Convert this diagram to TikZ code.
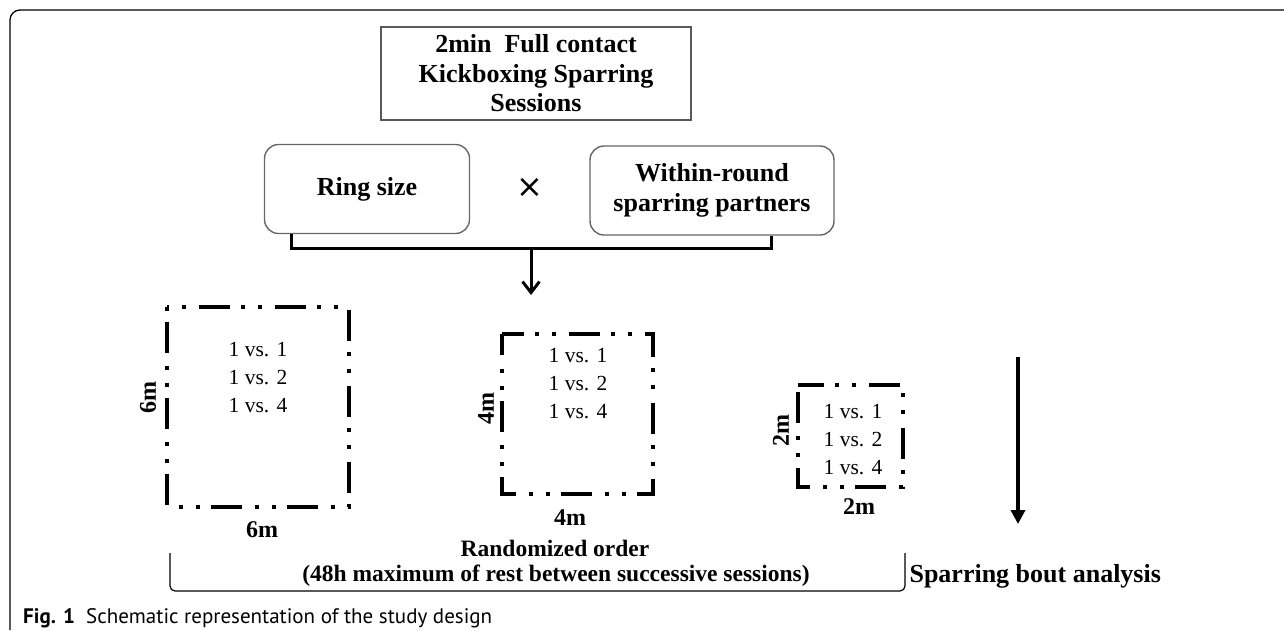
\documentclass[tikz,border=0pt]{standalone}
\usepackage{fontspec}
\setmainfont{Liberation Serif}
\newfontfamily\capfont{PT Sans}
\newfontfamily\symfont{DejaVu Sans}
\usetikzlibrary{arrows.meta}

\tikzset{
    titlebox/.style={draw=black!65, line width=1.8pt, minimum width=310pt, minimum height=93pt,
        align=center, font=\fontsize{26}{29.5}\selectfont\bfseries},
    factorbox/.style={draw=black!60, line width=1.4pt, rounded corners=14pt, minimum height=89pt,
        align=center, font=\fontsize{26}{29.5}\selectfont\bfseries},
    ringline/.style={line width=4pt, dash pattern=on 31pt off 11pt on 4pt off 13pt on 4pt off 13.2pt},
    pairs/.style={align=center, font=\fontsize{21.5}{28}\selectfont},
    sizelabel/.style={font=\fontsize{24}{24}\selectfont\bfseries},
    bottomtext/.style={font=\fontsize{23.5}{28}\selectfont\bfseries},
    bracket/.style={line width=3pt},
}

\begin{document}
\begin{tikzpicture}[x=1pt, y=-1pt]
    \useasboundingbox (0,0) rectangle (1284,630);

    % Outer frame
    \draw[line width=1.3pt, rounded corners=10pt] (1284,10) -- (10,10) -- (10,630);

    % Top box and the two factors
    \node[titlebox] (title) at (536,73.5) {2min\ \ Full contact\\Kickboxing Sparring\\Sessions};
    \node[factorbox, minimum width=205pt] (ring) at (367,189) {Ring size};
    \node[factorbox, minimum width=244pt] (within) at (712,190.5) {Within-round\\sparring partners};
    \node (times) at (530,188) {\symfont\fontsize{32}{32}\selectfont ×};

    % Joining bracket and arrow down
    \coordinate (join) at (531,248);
    \coordinate (arrtip) at (531,295);
    \draw[bracket] ([xshift=28pt]ring.south west) |- (join) -| ([xshift=-63pt]within.south east);
    \draw[bracket, -{Straight Barb[length=11pt, width=17pt]}] (join) -- (arrtip);

    % Rings (6m, 4m, 2m)
    \draw[ringline, dash phase=44pt] (167,307) -- (349,307) -- (349,507) -- (167,507) -- cycle;
    \draw[ringline, dash phase=9pt] (502,334) -- (653,334) -- (653,494) -- (502,494) -- cycle;
    \draw[ringline, dash phase=4.8pt] (798,385) -- (903,385) -- (903,487) -- (798,487) -- cycle;

    % Sparring partners in each ring
    \node[pairs] (pairs6) at (258,378) {1 vs. 1\\1 vs. 2\\1 vs. 4};
    \node[pairs] (pairs4) at (578,384) {1 vs. 1\\1 vs. 2\\1 vs. 4};
    \node[pairs] (pairs2) at (853,440) {1 vs. 1\\1 vs. 2\\1 vs. 4};

    % Ring sizes
    \node[sizelabel, rotate=90] (side6) at (148,397) {6m};
    \node[sizelabel] (base6) at (262,530) {6m};
    \node[sizelabel, rotate=90] (side4) at (486,408) {4m};
    \node[sizelabel] (base4) at (570,518) {4m};
    \node[sizelabel, rotate=90] (side2) at (781,430) {2m};
    \node[sizelabel] (base2) at (859,507) {2m};

    % Analysis arrow
    \coordinate (boutstart) at (1018,357);
    \coordinate (boutend) at (1018,524);
    \draw[line width=3.5pt, -{Triangle[length=14pt, width=14pt]}] (boutstart) -- (boutend);

    % Bottom bracket and texts
    \coordinate (brleft) at (170,553);
    \coordinate (brright) at (905,553);
    \draw[line width=1.2pt, rounded corners=5pt] (brleft) -- (170,591) -- (905,591) -- (brright);
    \node[bottomtext] (order) at (555,548) {Randomized order};
    \node[bottomtext] (rest) at (556,576) {(48h maximum of rest between successive sessions)};
    \node[bottomtext, font=\fontsize{26}{28}\selectfont\bfseries, anchor=west] (bout) at (906,576) {Sparring bout analysis};

    % Caption
    \node[anchor=west, inner sep=0pt, font=\capfont\fontsize{21}{22}\selectfont] (caption) at (23,618)
        {\textbf{Fig. 1}\ \ Schematic representation of the study design};
\end{tikzpicture}
\end{document}
